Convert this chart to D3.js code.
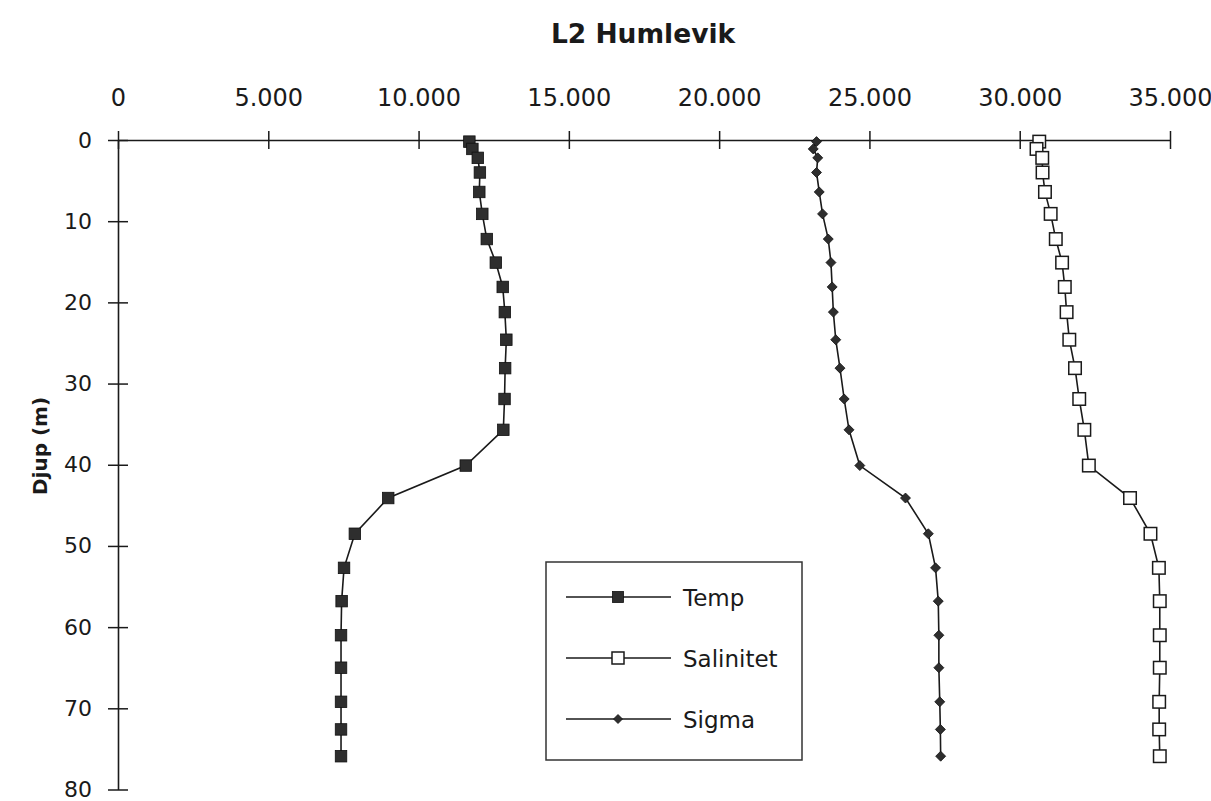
<!DOCTYPE html>
<html><head><meta charset="utf-8">
<script src="https://cdn.jsdelivr.net/npm/d3@7/dist/d3.min.js"></script>
<style>body{margin:0;background:#fff}svg{display:block}</style>
</head><body>
<svg id="c" width="1211" height="801"></svg>
<script>
const depths = [0.2, 1.1, 2.2, 4.0, 6.4, 9.1, 12.2, 15.1, 18.1, 21.2, 24.6, 28.1, 31.9, 35.7, 40.1, 44.1, 48.5, 52.7, 56.8, 61.0, 65.0, 69.2, 72.6, 75.9];
const temp = [11.69, 11.79, 11.97, 12.04, 12.02, 12.12, 12.27, 12.57, 12.80, 12.87, 12.92, 12.88, 12.86, 12.82, 11.57, 8.99, 7.88, 7.52, 7.44, 7.42, 7.42, 7.42, 7.42, 7.42];
const salinitet = [30.65, 30.56, 30.75, 30.76, 30.84, 31.03, 31.20, 31.41, 31.50, 31.56, 31.65, 31.84, 31.98, 32.15, 32.30, 33.67, 34.35, 34.63, 34.66, 34.66, 34.66, 34.64, 34.64, 34.66];
const sigma = [23.24, 23.13, 23.28, 23.24, 23.33, 23.44, 23.63, 23.72, 23.76, 23.80, 23.88, 24.02, 24.16, 24.32, 24.68, 26.20, 26.96, 27.20, 27.29, 27.31, 27.31, 27.34, 27.36, 27.37];
const xTicks = [0, 5, 10, 15, 20, 25, 30, 35];
const yTicks = [0, 10, 20, 30, 40, 50, 60, 70, 80];
const seriesNames = ["Temp", "Salinitet", "Sigma"];
const titleText = "L2 Humlevik";
const yTitle = "Djup (m)";

const FONT = "'DejaVu Sans', sans-serif";
const INK = "#1a1a1a";
const svg = d3.select("#c");
const x = d3.scaleLinear().domain([0, 35]).range([118, 1170]);
const y = d3.scaleLinear().domain([0, 80]).range([140, 789.5]);
const fmt = d3.format(".3f");

// title
svg.append("text").attr("x", 643).attr("y", 43).attr("text-anchor", "middle")
  .attr("font-family", FONT).attr("font-weight", "bold").attr("font-size", 26.5)
  .attr("fill", INK).text(titleText);

// x axis (top)
const gx = svg.append("g").attr("transform", `translate(0,${y(0)})`)
  .call(d3.axisTop(x).tickValues(xTicks).tickFormat(d => d === 0 ? "0" : fmt(d)).tickSizeOuter(0).tickPadding(28));
gx.select(".domain").attr("stroke", INK).attr("stroke-width", 1.6);
gx.selectAll(".tick line").attr("y1", -9).attr("y2", 9).attr("stroke", INK).attr("stroke-width", 1.5);
gx.selectAll(".tick text").attr("font-family", FONT).attr("font-size", 24).attr("fill", INK);

// y axis (left)
const gy = svg.append("g").attr("transform", `translate(${x(0)},0)`)
  .call(d3.axisLeft(y).tickValues(yTicks).tickFormat(d3.format("d")).tickSizeOuter(0).tickPadding(20));
gy.select(".domain").attr("stroke", INK).attr("stroke-width", 1.6);
gy.selectAll(".tick line").attr("x1", -10).attr("x2", 10).attr("stroke", INK).attr("stroke-width", 1.5);
gy.selectAll(".tick text").attr("font-family", FONT).attr("font-size", 22).attr("fill", INK);

// y title
svg.append("text").attr("transform", "translate(47,446) rotate(-90)").attr("text-anchor", "middle")
  .attr("font-family", FONT).attr("font-weight", "bold").attr("font-size", 20)
  .attr("fill", INK).text(yTitle);

const line = d3.line().x(d => x(d[0])).y(d => y(d[1]));
const series = [
  {name: seriesNames[0], vals: temp, marker: "sq"},
  {name: seriesNames[1], vals: salinitet, marker: "open"},
  {name: seriesNames[2], vals: sigma, marker: "dia"}
];

function drawMarker(g, type, cx, cy, legend) {
  if (type === "sq") {
    const s = legend ? 11 : 11.5;
    g.append("rect").attr("x", cx - s/2).attr("y", cy - s/2).attr("width", s).attr("height", s)
      .attr("fill", "#2e2e2e").attr("stroke", "#111").attr("stroke-width", 0.8);
  } else if (type === "open") {
    const s = legend ? 12 : 12.5;
    g.append("rect").attr("x", cx - s/2).attr("y", cy - s/2).attr("width", s).attr("height", s)
      .attr("fill", "#fff").attr("stroke", INK).attr("stroke-width", 1.5);
  } else {
    const r = legend ? 4.5 : 5;
    g.append("path").attr("d", `M${cx},${cy - r}L${cx + r},${cy}L${cx},${cy + r}L${cx - r},${cy}Z`)
      .attr("fill", "#2e2e2e").attr("stroke", "#111").attr("stroke-width", 0.8);
  }
}

series.forEach(s => {
  const pts = s.vals.map((v, i) => [v, depths[i]]);
  svg.append("path").datum(pts).attr("d", line).attr("fill", "none")
    .attr("stroke", INK).attr("stroke-width", 1.6);
  const g = svg.append("g");
  pts.forEach(p => drawMarker(g, s.marker, x(p[0]), y(p[1]), false));
});

// legend
const lg = svg.append("g");
lg.append("rect").attr("x", 546).attr("y", 562).attr("width", 256).attr("height", 198)
  .attr("fill", "#fff").attr("stroke", "#333").attr("stroke-width", 1.5);
series.forEach((s, i) => {
  const ry = 597 + i * 61;
  lg.append("line").attr("x1", 566).attr("x2", 671).attr("y1", ry).attr("y2", ry)
    .attr("stroke", INK).attr("stroke-width", 1.5);
  drawMarker(lg, s.marker, 618, ry, true);
  lg.append("text").attr("x", 683).attr("y", ry + 8.5).attr("font-family", FONT)
    .attr("font-size", 23).attr("fill", INK).text(s.name);
});
</script>
</body></html>
